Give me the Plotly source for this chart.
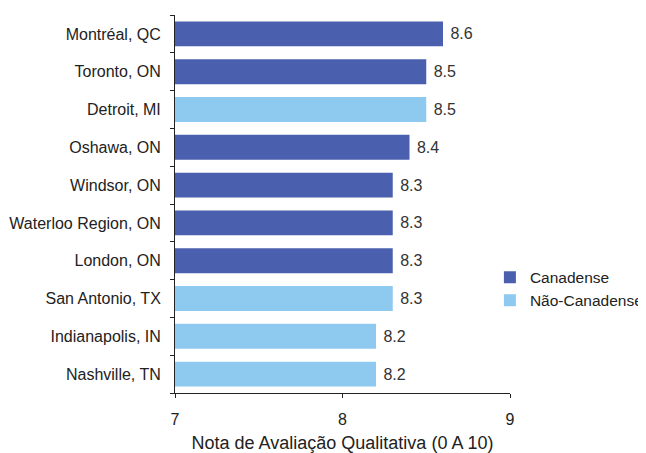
import plotly.graph_objects as go

cities = ["Montréal, QC", "Toronto, ON", "Detroit, MI", "Oshawa, ON", "Windsor, ON",
          "Waterloo Region, ON", "London, ON", "San Antonio, TX", "Indianapolis, IN", "Nashville, TN"]
scores = [8.6, 8.5, 8.5, 8.4, 8.3, 8.3, 8.3, 8.3, 8.2, 8.2]
is_canadian = [True, True, False, True, True, True, True, False, False, False]

groups = [("Canadense", True, "#4a60ae"), ("Não-Canadense", False, "#8ec9ef")]

fig = go.Figure()
for name, flag, color in groups:
    ys = [c for c, k in zip(cities, is_canadian) if k == flag]
    xs = [s for s, k in zip(scores, is_canadian) if k == flag]
    fig.add_trace(go.Bar(
        y=ys, x=xs, orientation="h", name=name,
        marker=dict(color=color, line=dict(width=0)),
        width=0.66,
        text=[f"\u00a0{v:.1f}" for v in xs], textposition="outside",
        textfont=dict(size=16, color="#333333"),
        cliponaxis=False,
    ))

fig.update_layout(
    width=638, height=445,
    margin=dict(l=167, r=136, t=7, b=60, autoexpand=False),
    paper_bgcolor="white", plot_bgcolor="white",
    font=dict(family="Liberation Sans, Arial, sans-serif", size=16, color="#222222"),
    barmode="overlay",
    showlegend=True,
    legend=dict(x=0.94, y=0.275, xanchor="left", yanchor="middle",
                font=dict(size=15.5, color="#222222"), bgcolor="rgba(0,0,0,0)",
                itemwidth=30, tracegroupgap=0),
)
fig.update_xaxes(
    range=[7, 9], tickvals=[7, 8, 9], ticktext=["7", "8", "9"],
    showline=True, linecolor="#222222", linewidth=1,
    ticks="outside", ticklen=4, tickcolor="#222222",
    showgrid=False, zeroline=False, automargin=False,
    title=dict(text="Nota de Avaliação Qualitativa (0 A 10)", font=dict(size=18, color="#222222"), standoff=11),
    tickfont=dict(size=16, color="#222222"),
    ticklabelstandoff=8,
)
fig.update_yaxes(
    categoryorder="array", categoryarray=cities[::-1],
    showline=True, linecolor="#222222", linewidth=1,
    ticks="outside", ticklen=4, tickcolor="#222222", tickson="boundaries",
    showgrid=False, automargin=False,
    tickfont=dict(size=16, color="#222222"),
    ticklabelstandoff=10,
)

fig.write_html("out.html")
